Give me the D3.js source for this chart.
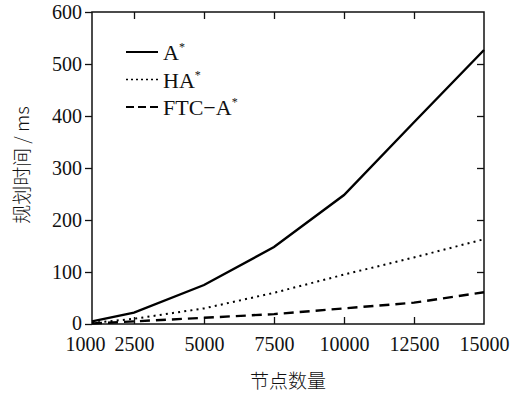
<!DOCTYPE html>
<html>
<head>
<meta charset="utf-8">
<script src="https://cdn.jsdelivr.net/npm/d3@7"></script>
<style>
  body { margin: 0; background: #fff; }
  text { font-family: "Liberation Serif", "Times New Roman", serif; fill: #111; }
  .cjk { font-family: "Noto Sans CJK SC", sans-serif; font-weight: 300; }
</style>
</head>
<body>
<div id="chart-area"></div>
<script>
// datos
const nodes = [1000, 2500, 5000, 7500, 10000, 12500, 15000];
const aStar = [5, 22, 75, 148, 248, 388, 527];
const haStar = [2, 10, 30, 60, 95, 128, 163];
const ftcAStar = [1, 5, 12, 19, 30, 41, 61];
const yTicks = [0, 100, 200, 300, 400, 500, 600];
const xTicks = [1000, 2500, 5000, 7500, 10000, 12500, 15000];

const series = [
    { name: "A", values: aStar, dash: null, legendDash: null },
    { name: "HA", values: haStar, dash: "2,4.2", legendDash: "2,3" },
    { name: "FTC\u2212A", values: ftcAStar, dash: "10,6", legendDash: "8,4" }
];

const outerW = 516, outerH = 396;
const margin = { top: 12, right: 32, bottom: 72, left: 92 };
const width = outerW - margin.left - margin.right;
const height = outerH - margin.top - margin.bottom;

const svg = d3.select("#chart-area")
    .append("svg")
    .attr("width", outerW)
    .attr("height", outerH);

const g = svg.append("g")
    .attr("transform", `translate(${margin.left},${margin.top})`);

// escalas
const x = d3.scaleLinear().domain([1000, 15000]).range([0, width]);
const y = d3.scaleLinear().domain([0, 600]).range([height, 0]);

// eje izquierdo (marcas hacia fuera)
g.append("g")
    .attr("class", "left axis")
    .call(d3.axisLeft(y).tickValues(yTicks).tickSize(7).tickPadding(3))
    .call(a => a.select(".domain").remove())
    .selectAll("text")
    .attr("font-size", "20px")
    .attr("dy", d => d === 0 ? "0.28em" : "0.34em");

// eje derecho (marcas hacia dentro)
g.append("g")
    .attr("transform", `translate(${width},0)`)
    .call(d3.axisLeft(y).tickValues(yTicks.slice(1, -1)).tickSize(7).tickFormat(""))
    .call(a => a.select(".domain").remove());

// eje superior
g.append("g")
    .call(d3.axisBottom(x).tickValues(xTicks.slice(1, -1)).tickSize(7).tickFormat(""))
    .call(a => a.select(".domain").remove());

// eje inferior
const bottom = g.append("g")
    .attr("class", "bottom axis")
    .attr("transform", `translate(0,${height})`)
    .call(d3.axisBottom(x).tickValues(xTicks).tickFormat(d3.format("d")).tickSize(-7).tickPadding(13))
    .call(a => a.select(".domain").remove());
bottom.selectAll("text")
    .attr("font-size", "20px")
    .attr("dx", d => d === 1000 ? -7 : 0);
bottom.selectAll("line").filter(d => d === 1000 || d === 15000).remove();

// marco
g.append("rect")
    .attr("width", width)
    .attr("height", height)
    .attr("fill", "none")
    .attr("stroke", "#111")
    .attr("stroke-width", 1.5);

g.selectAll(".tick line").attr("stroke", "#111").attr("stroke-width", 1.3);

// lineas
const line = d3.line()
    .x((d, i) => x(nodes[i]))
    .y(d => y(d));

g.selectAll(".serie")
    .data(series)
    .enter()
    .append("path")
    .attr("class", "serie")
    .attr("d", d => line(d.values))
    .attr("fill", "none")
    .attr("stroke", "#000")
    .attr("stroke-width", d => d.dash === "2,4.2" ? 2 : 2.4)
    .attr("stroke-dasharray", d => d.dash);

// leyenda
const legend = g.append("g").attr("transform", "translate(34,40)");
series.forEach((s, i) => {
    const row = legend.append("g").attr("transform", `translate(0,${i * 27.5})`);
    row.append("line")
        .attr("x1", 0).attr("x2", 32)
        .attr("stroke", "#000")
        .attr("stroke-width", s.dash === "2,4.2" ? 1.5 : 2)
        .attr("stroke-dasharray", s.legendDash);
    const t = row.append("text")
        .attr("x", 37)
        .attr("y", 8)
        .attr("font-size", "22px");
    t.append("tspan").text(s.name);
    t.append("tspan")
        .attr("font-size", "12px")
        .attr("dy", "-9")
        .text("*");
});

// etiquetas de ejes
g.append("text")
    .attr("class", "cjk")
    .attr("x", width / 2)
    .attr("y", height + 64)
    .attr("font-size", "19px")
    .attr("text-anchor", "middle")
    .text("节点数量");

g.append("text")
    .attr("class", "cjk")
    .attr("transform", "rotate(-90)")
    .attr("x", -153)
    .attr("y", -63)
    .attr("font-size", "19px")
    .attr("text-anchor", "middle")
    .text("规划时间 / ms");
</script>
</body>
</html>
